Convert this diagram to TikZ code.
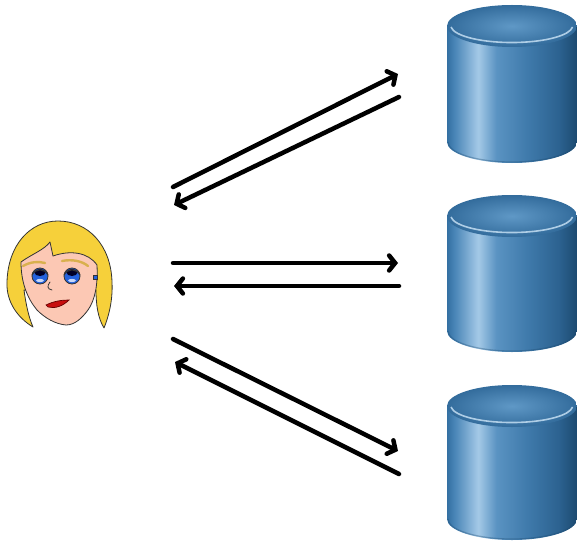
\documentclass[tikz,border=0pt]{standalone}
\usetikzlibrary{arrows.meta}

\definecolor{cylA}{HTML}{3470A2}
\definecolor{cylB}{HTML}{4A86B8}
\definecolor{cylC}{HTML}{A4C9E7}
\definecolor{cylD}{HTML}{5A93C2}
\definecolor{cylE}{HTML}{3F7AAB}
\definecolor{cylF}{HTML}{2C6290}
\definecolor{cylG}{HTML}{1C4A70}
\definecolor{topIn}{HTML}{5F98C6}
\definecolor{topOut}{HTML}{336C9C}
\definecolor{rim}{HTML}{BCD8EE}
\definecolor{hair}{HTML}{F6D03A}
\definecolor{skin}{HTML}{FCC8B4}
\definecolor{brow}{HTML}{D9B04E}
\definecolor{iris}{HTML}{2462DC}
\definecolor{lips}{HTML}{C80E0E}
\definecolor{outline}{HTML}{333333}

% body shading of the storage cylinders
\pgfdeclarehorizontalshading{cylbody}{100bp}{
  color(0bp)=(cylA); color(25bp)=(cylA); color(28bp)=(cylB);
  color(37bp)=(cylC); color(44bp)=(cylD); color(56bp)=(cylE);
  color(68bp)=(cylF); color(75bp)=(cylG); color(100bp)=(cylG)}

\tikzset{
  flow/.style={line width=4.5pt, line cap=round,
    -{Straight Barb[length=6pt,width=15pt,line width=4.5pt,line cap=round]}},
  face line/.style={draw=outline, line width=0.8pt, line join=round},
}

% one cylinder: #1 name, #2 centre x, #3 lid centre y, #4 base centre y
\newcommand{\dbcylinder}[4]{%
  \shade[shading=cylbody] (#2-65,#3) -- (#2-65,#4)
    arc[start angle=180,end angle=360,x radius=65pt,y radius=21pt]
    -- (#2+65,#3) -- cycle;
  \draw[cylG,line width=1.2pt,opacity=0.35] (#2-64,#4)
    arc[start angle=180,end angle=360,x radius=64pt,y radius=20pt];
  \shade[inner color=topIn,outer color=topOut] (#2,#3) ellipse[x radius=65pt,y radius=21pt];
  \draw[rim,line width=1.6pt,opacity=0.9] (#2-61,#3+1)
    arc[start angle=185,end angle=355,x radius=61pt,y radius=17pt];
  \node[inner sep=0pt,minimum width=130pt,minimum height=158pt] (#1)
    at (#2,{(#3+#4)/2}) {};
}

\begin{document}
\begin{tikzpicture}[x=1pt,y=-1pt]
\useasboundingbox (0,0) rectangle (577,540);

% ---------- the user ----------
% hair behind the face
\path[face line,fill=hair]
  (33,327) .. controls (18,318) and (6,302) .. (7,282)
  .. controls (8,245) and (30,221) .. (58,221)
  .. controls (88,221) and (111,245) .. (112,282)
  .. controls (113,302) and (108,318) .. (104,328)
  .. controls (98,318) and (96,305) .. (96,290)
  -- (24,290) .. controls (26,305) and (29,318) .. (33,327) -- cycle;
% face, its upper edge is the fringe
\path[face line,fill=skin]
  (21,262) .. controls (32,254) and (44,250) .. (50,242)
  -- (53,256) .. controls (70,250) and (88,252) .. (97,265)
  .. controls (98,285) and (95,300) .. (88,310)
  .. controls (82,318) and (75,325) .. (66,325)
  .. controls (55,324) and (45,318) .. (37,310)
  .. controls (27,298) and (21,282) .. (21,262) -- cycle;
% eyebrows
\draw[brow,line width=2.4pt,line cap=round] (23,266) .. controls (30,262) and (38,261) .. (45,263);
\draw[brow,line width=2.4pt,line cap=round] (62,261) .. controls (72,259) and (82,261) .. (88,266);
% eyes
\foreach \ex in {40,72}{
  \path[draw=outline,line width=0.8pt,fill=iris] (\ex,276) circle[radius=8pt];
  \fill[black!85!blue] (\ex,272.5) ellipse[x radius=5.5pt,y radius=3.5pt];
  \fill[white,opacity=0.75] (\ex,280.5) ellipse[x radius=4pt,y radius=1.6pt];
  \draw[outline,line width=1.2pt] (\ex-8,275) .. controls (\ex-4,268) and (\ex+4,268) .. (\ex+8,275);
}
% earring
\path[draw=outline,line width=0.4pt,fill=iris] (93.5,275) rectangle (97,279);
% nose
\draw[outline,line width=0.8pt,line cap=round] (50,282) .. controls (47,286) and (47,289) .. (52,290);
% mouth
\path[draw=black!60!red,line width=0.7pt,fill=lips]
  (46,305) .. controls (54,301) and (62,300) .. (69,300)
  .. controls (63,306) and (55,309) .. (48,307) -- cycle;
\node[inner sep=0pt,minimum width=108pt,minimum height=108pt] (user) at (60,274) {};

% ---------- the three stores ----------
\dbcylinder{db1}{512}{26}{142}
\dbcylinder{db2}{512}{216}{331}
\dbcylinder{db3}{512}{406}{519}

% ---------- request / reply arrows ----------
\coordinate (a1) at (173,187); \coordinate (b1) at (398,74);
\coordinate (c1) at (399,97);  \coordinate (d1) at (174,205);
\coordinate (a2) at (173,263); \coordinate (b2) at (398,263);
\coordinate (c2) at (399,286); \coordinate (d2) at (174,286);
\coordinate (a3) at (173,339); \coordinate (b3) at (398,451);
\coordinate (c3) at (399,474); \coordinate (d3) at (175,362);

\draw[flow] (a1) -- (b1);
\draw[flow] (c1) -- (d1);
\draw[flow] (a2) -- (b2);
\draw[flow] (c2) -- (d2);
\draw[flow] (a3) -- (b3);
\draw[flow] (c3) -- (d3);
\end{tikzpicture}
\end{document}
